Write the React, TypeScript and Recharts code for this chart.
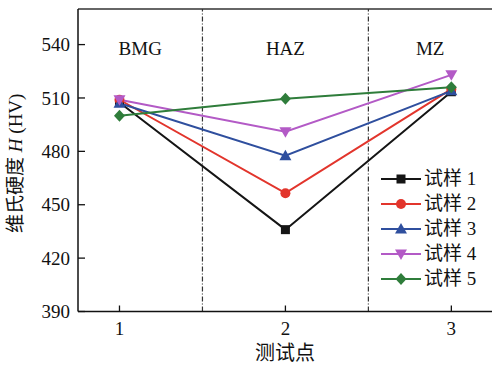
import React from "react";
import { LineChart, Line, XAxis, YAxis, ReferenceLine, ReferenceArea, Legend } from "recharts";

const points = [1, 2, 3];
const regions = ["BMG", "HAZ", "MZ"];
const yTicks = [390, 420, 450, 480, 510, 540];
const names = ["试样 1", "试样 2", "试样 3", "试样 4", "试样 5"];
const sample1 = [507.5, 436, 513.5];
const sample2 = [509, 456.5, 515];
const sample3 = [507, 477.5, 514];
const sample4 = [509, 491, 523];
const sample5 = [500, 509.5, 516];

const colors = ["#151515", "#e2352c", "#2f4f9e", "#b35ac6", "#2f7d3b"];
const shapes = ["square", "circle", "triangle", "down", "diamond"];
const keys = ["s1", "s2", "s3", "s4", "s5"];
const series = [sample1, sample2, sample3, sample4, sample5];

const data = points.map((x, i) => {
  const row: Record<string, number> = { x };
  keys.forEach((k, j) => (row[k] = series[j][i]));
  return row;
});

const FONT = "'Liberation Serif', 'Noto Sans CJK SC', serif";

function Marker({ cx, cy, shape, color }: { cx: number; cy: number; shape: string; color: string }) {
  if (cx == null || cy == null) return null;
  if (shape === "square") return <rect x={cx - 4.5} y={cy - 4.5} width={9} height={9} fill={color} />;
  if (shape === "circle") return <circle cx={cx} cy={cy} r={5} fill={color} />;
  if (shape === "triangle")
    return <polygon points={`${cx},${cy - 6} ${cx + 6},${cy + 4.5} ${cx - 6},${cy + 4.5}`} fill={color} />;
  if (shape === "down")
    return <polygon points={`${cx},${cy + 6} ${cx + 6},${cy - 4.5} ${cx - 6},${cy - 4.5}`} fill={color} />;
  return <polygon points={`${cx},${cy - 6} ${cx + 5.5},${cy} ${cx},${cy + 6} ${cx - 5.5},${cy}`} fill={color} />;
}

const XTick = ({ x, y, payload }: any) => (
  <g>
    <line x1={x} y1={y} x2={x} y2={y - 6} stroke="#111" strokeWidth={1.3} />
    <text x={x} y={y + 23} textAnchor="middle" fontSize={19} fontFamily={FONT} fill="#111">
      {payload.value}
    </text>
  </g>
);

const YTick = ({ x, y, payload }: any) => (
  <g>
    <line x1={x} y1={y} x2={x + 7} y2={y} stroke="#111" strokeWidth={1.3} />
    <text x={x - 8} y={y} dy="0.35em" textAnchor="end" fontSize={19} fontFamily={FONT} fill="#111">
      {payload.value}
    </text>
  </g>
);

const regionLabel = (text: string) => (props: any) => {
  const vb = props.viewBox;
  return (
    <text x={vb.x + vb.width / 2} y={vb.y + 46} textAnchor="middle" fontSize={19} fontFamily={FONT} fill="#111">
      {text}
    </text>
  );
};

const renderLegend = () => (
  <div style={{ fontFamily: FONT, fontSize: 19, color: "#111" }}>
    {names.map((n, i) => (
      <div key={n} style={{ display: "flex", alignItems: "center", height: 24.8 }}>
        <svg width={44} height={20} style={{ display: "block" }}>
          <line x1={1} y1={10} x2={41} y2={10} stroke={colors[i]} strokeWidth={2} />
          <Marker cx={21} cy={10} shape={shapes[i]} color={colors[i]} />
        </svg>
        <span style={{ lineHeight: "20px" }}>{n}</span>
      </div>
    ))}
  </div>
);

export default function App() {
  return (
    <div style={{ position: "absolute", left: 0, top: 0, width: 492, height: 365 }}>
      <LineChart
        width={492}
        height={365}
        data={data}
        margin={{ top: 9, right: 0, left: 0, bottom: 23.5 }}
        style={{ overflow: "visible" }}
      >
        <XAxis
          dataKey="x"
          type="number"
          domain={[0.75, 3.245]}
          ticks={points}
          allowDataOverflow
          height={30}
          tickSize={0}
          tickMargin={0}
          tickLine={false}
          axisLine={{ stroke: "#111", strokeWidth: 1.5 }}
          tick={<XTick />}
          label={{
            content: (p: any) => (
              <text
                x={p.viewBox.x + p.viewBox.width / 2}
                y={353}
                dominantBaseline="central"
                textAnchor="middle"
                fontSize={20}
                fontFamily={FONT}
                fill="#111"
              >
                测试点
              </text>
            ),
          }}
        />
        <YAxis
          type="number"
          domain={[390, 560]}
          ticks={yTicks}
          allowDataOverflow
          width={78}
          tickSize={0}
          tickMargin={0}
          tickLine={false}
          axisLine={{ stroke: "#111", strokeWidth: 1.5 }}
          tick={<YTick />}
          label={{
            content: (p: any) => {
              const cy = p.viewBox.y + p.viewBox.height / 2 + 3;
              return (
                <text
                  x={15}
                  y={cy}
                  transform={`rotate(-90 15 ${cy})`}
                  textAnchor="middle"
                  dominantBaseline="central"
                  fontSize={19}
                  fontFamily={FONT}
                  fill="#111"
                >
                  维氏硬度 <tspan fontStyle="italic">H</tspan> (HV)
                </text>
              );
            },
          }}
        />
        <ReferenceLine y={560} stroke="#333" strokeWidth={1.5} />
        <ReferenceArea x1={0.75} x2={1.5} fillOpacity={0} strokeOpacity={0} label={{ content: regionLabel(regions[0]) }} />
        <ReferenceArea x1={1.5} x2={2.5} fillOpacity={0} strokeOpacity={0} label={{ content: regionLabel(regions[1]) }} />
        <ReferenceArea x1={2.5} x2={3.245} fillOpacity={0} strokeOpacity={0} label={{ content: regionLabel(regions[2]) }} />
        <ReferenceLine x={1.5} stroke="#333" strokeWidth={1.2} strokeDasharray="5 2 1 2" />
        <ReferenceLine x={2.5} stroke="#333" strokeWidth={1.2} strokeDasharray="5 2 1 2" />
        {keys.map((k, i) => (
          <Line
            key={k}
            dataKey={k}
            type="linear"
            stroke={colors[i]}
            strokeWidth={2}
            isAnimationActive={false}
            dot={(p: any) => <Marker key={`${k}-${p.index}`} cx={p.cx} cy={p.cy} shape={shapes[i]} color={colors[i]} />}
            activeDot={false}
          />
        ))}
        <Legend
          layout="vertical"
          align="center"
          verticalAlign="middle"
          content={renderLegend}
          wrapperStyle={{ position: "absolute", left: 380, top: 167, width: 112, height: "auto" }}
        />
      </LineChart>
    </div>
  );
}
